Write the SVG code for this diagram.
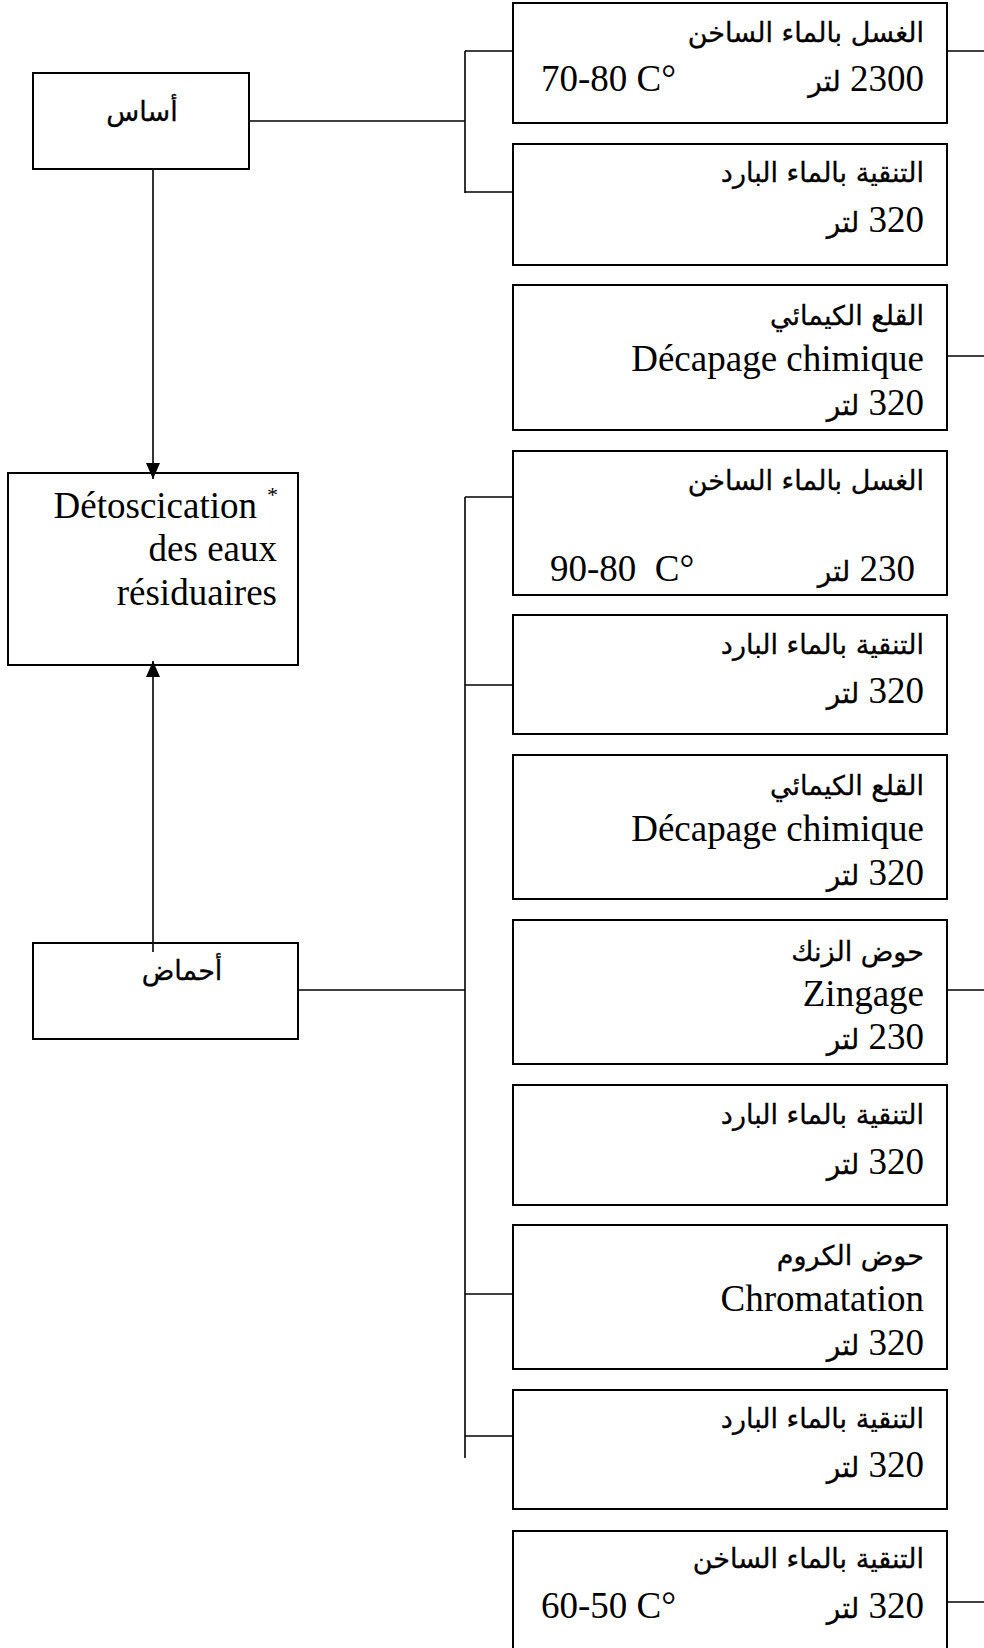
<svg xmlns="http://www.w3.org/2000/svg" width="984" height="1648" viewBox="0 0 984 1648">
  <defs>
    <style>
      .box{fill:#fff;stroke:#000;stroke-width:2}
      .ln{fill:none;stroke:#000;stroke-width:1.6}
      .ar{font-family:'DejaVu Sans',sans-serif;font-size:27px;fill:#000;stroke:#000;stroke-width:0.3}
      .rt{direction:rtl;text-anchor:start}
      .lat{font-family:'Liberation Serif','Times New Roman',serif;font-size:37px;fill:#000}
      .sup{font-size:22px}
      .end{text-anchor:end}
      .mix{font-family:'Liberation Serif','DejaVu Sans',serif;font-size:37px;fill:#000;direction:rtl;text-anchor:start}
      .aw{font-family:'DejaVu Sans',sans-serif;font-size:28px;stroke:#000;stroke-width:0.3}
    </style>
    <marker id="head" viewBox="0 0 16 14" refX="16" refY="7" markerWidth="16" markerHeight="14" markerUnits="userSpaceOnUse" orient="auto">
      <path d="M0,0 L16,7 L0,14 z" fill="#000"/>
    </marker>
  </defs>
  <rect width="984" height="1648" fill="#fff"/>

  <!-- left column -->
  <g id="asas">
    <rect class="box" x="33" y="73" width="216" height="96"/>
    <text class="ar rt" x="142" y="121" style="text-anchor:middle">أساس</text>
  </g>
  <g id="detox">
    <rect class="box" x="8" y="473" width="290" height="192"/>
    <text class="lat end" x="257" y="518">Détoscication</text>
    <text class="lat sup" x="267" y="502">*</text>
    <text class="lat end" x="277" y="561">des eaux</text>
    <text class="lat end" x="277" y="605">résiduaires</text>
  </g>
  <g id="ahmad">
    <rect class="box" x="33" y="943" width="265" height="96"/>
    <text class="ar rt" x="182" y="980" style="text-anchor:middle">أحماض</text>
  </g>

  <!-- right column -->
  <g id="n1">
    <rect class="box" x="513" y="3" width="434" height="120"/>
    <text class="ar rt" x="924" y="42">الغسل بالماء الساخن</text>
    <text class="mix" x="924" y="91">2300 <tspan class="aw">لتر</tspan></text>
    <text class="lat" x="541" y="91">70-80 C°</text>
  </g>
  <g id="n2">
    <rect class="box" x="513" y="144" width="434" height="121"/>
    <text class="ar rt" x="924" y="182">التنقية بالماء البارد</text>
    <text class="mix" x="924" y="232">320 <tspan class="aw">لتر</tspan></text>
  </g>
  <g id="n3">
    <rect class="box" x="513" y="285" width="434" height="145"/>
    <text class="ar rt" x="924" y="325">القلع الكيمائي</text>
    <text class="lat end" x="924" y="371">Décapage chimique</text>
    <text class="mix" x="924" y="415">320 <tspan class="aw">لتر</tspan></text>
  </g>
  <g id="n4">
    <rect class="box" x="513" y="451" width="434" height="144"/>
    <text class="ar rt" x="924" y="490">الغسل بالماء الساخن</text>
    <text class="mix" x="915" y="581">230 <tspan class="aw">لتر</tspan></text>
    <text class="lat" x="550" y="581">90-80&#160; C°</text>
  </g>
  <g id="n5">
    <rect class="box" x="513" y="615" width="434" height="119"/>
    <text class="ar rt" x="924" y="654">التنقية بالماء البارد</text>
    <text class="mix" x="924" y="703">320 <tspan class="aw">لتر</tspan></text>
  </g>
  <g id="n6">
    <rect class="box" x="513" y="755" width="434" height="144"/>
    <text class="ar rt" x="924" y="795">القلع الكيمائي</text>
    <text class="lat end" x="924" y="841">Décapage chimique</text>
    <text class="mix" x="924" y="885">320 <tspan class="aw">لتر</tspan></text>
  </g>
  <g id="n7">
    <rect class="box" x="513" y="920" width="434" height="144"/>
    <text class="ar rt" x="924" y="961">حوض الزنك</text>
    <text class="lat end" x="924" y="1006">Zingage</text>
    <text class="mix" x="924" y="1049">230 <tspan class="aw">لتر</tspan></text>
  </g>
  <g id="n8">
    <rect class="box" x="513" y="1085" width="434" height="120"/>
    <text class="ar rt" x="924" y="1124">التنقية بالماء البارد</text>
    <text class="mix" x="924" y="1174">320 <tspan class="aw">لتر</tspan></text>
  </g>
  <g id="n9">
    <rect class="box" x="513" y="1225" width="434" height="144"/>
    <text class="ar rt" x="924" y="1265">حوض الكروم</text>
    <text class="lat end" x="924" y="1311">Chromatation</text>
    <text class="mix" x="924" y="1355">320 <tspan class="aw">لتر</tspan></text>
  </g>
  <g id="n10">
    <rect class="box" x="513" y="1390" width="434" height="119"/>
    <text class="ar rt" x="924" y="1428">التنقية بالماء البارد</text>
    <text class="mix" x="924" y="1477">320 <tspan class="aw">لتر</tspan></text>
  </g>
  <g id="n11">
    <rect class="box" x="513" y="1531" width="434" height="140"/>
    <text class="ar rt" x="924" y="1568">التنقية بالماء الساخن</text>
    <text class="mix" x="924" y="1618">320 <tspan class="aw">لتر</tspan></text>
    <text class="lat" x="541" y="1618">60-50 C°</text>
  </g>

  <!-- connectors, drawn over the boxes -->
  <g id="connectors" class="ln">
    <line x1="153" y1="169" x2="153" y2="479" marker-end="url(#head)"/>
    <line x1="153" y1="952" x2="153" y2="661" marker-end="url(#head)"/>
    <line x1="249" y1="121" x2="465" y2="121"/>
    <line x1="465" y1="51" x2="465" y2="193"/>
    <line x1="465" y1="51" x2="513" y2="51"/>
    <line x1="465" y1="192" x2="513" y2="192"/>
    <line x1="298" y1="990" x2="465" y2="990"/>
    <line x1="465" y1="497" x2="465" y2="1458"/>
    <line x1="465" y1="497" x2="513" y2="497"/>
    <line x1="465" y1="685" x2="513" y2="685"/>
    <line x1="465" y1="1294" x2="513" y2="1294"/>
    <line x1="465" y1="1436" x2="513" y2="1436"/>
    <line x1="947" y1="51" x2="984" y2="51"/>
    <line x1="947" y1="356" x2="984" y2="356"/>
    <line x1="947" y1="990" x2="984" y2="990"/>
    <line x1="947" y1="1602" x2="984" y2="1602"/>
  </g>
</svg>
